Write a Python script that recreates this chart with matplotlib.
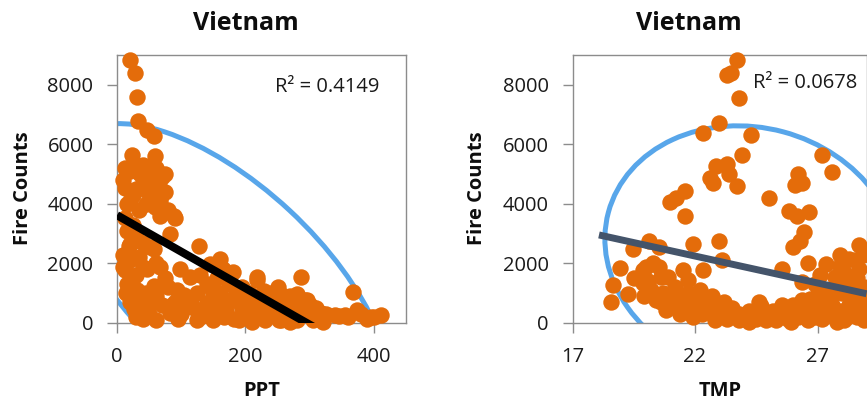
import numpy as np
import matplotlib
matplotlib.use('Agg')
import matplotlib.pyplot as plt
from matplotlib.patches import Ellipse
from matplotlib.transforms import ScaledTranslation
plt.rcParams['font.family'] = ['Open Sans', 'DejaVu Sans']
###############################################################################
# values

ppt = [20, 28, 31, 33, 46, 57, 23, 59, 12, 36, 75, 12, 46, 67, 15, 59, 91, 12,
       83, 127, 18, 26, 57, 145, 161, 98, 12, 46, 218, 286, 367, 14, 57, 104,
       229, 292, 374, 411, 390, 339, 355, 313, 26, 124, 182, 211, 252,
       20, 67, 88, 67, 20, 52, 10, 41, 67, 114, 31, 93, 57, 140, 177, 36, 83,
       130, 166, 203, 208, 218, 244, 281, 296, 317, 270, 239, 255, 395,
       30, 50, 40, 25, 55, 70, 150, 160, 170, 185, 195, 200, 215, 225, 235,
       245, 260, 265, 275, 285, 300, 305, 150, 190, 230, 280, 140, 155, 175,
       195, 250, 260, 180, 120, 100, 70, 50, 45, 75, 90, 130, 60, 35, 25, 20,
       40, 60, 95, 150, 210, 270, 320,
       10, 20, 30, 40, 50, 60, 65, 45, 35, 55, 75, 80, 25, 15, 30, 40, 10, 20,
       30, 15, 25, 35, 30, 30, 50, 60, 80, 85, 105, 115, 125, 135, 145, 160,
       165, 175, 190, 205, 220, 240, 255, 270, 290, 300, 310, 325, 345, 360,
       380, 400]
fire_ppt = [8830, 8380, 7600, 6770, 6490, 6270, 5650, 5600, 5210, 4990, 5000,
            4550, 4430, 4210, 3990, 3880, 3540, 3540, 2990, 2600, 2600, 2770,
            2500, 1990, 2160, 1800, 1780, 1800, 1540, 1540, 1040, 1000, 1240,
            940, 1070, 770, 430, 270, 150, 270, 270, 270, 480, 100, 150, 200,
            100,
            4100, 4100, 3600, 3600, 2660, 2540, 1880, 1880, 1880, 1540, 1100,
            1100, 770, 660, 770, 430, 320, 210, 210, 320, 770, 1430, 1040, 990,
            770, 320, 210, 320, 100, 210,
            5300, 5100, 4700, 4300, 4600, 4900, 900, 600, 400, 1000, 500, 800,
            600, 300, 700, 500, 400, 700, 300, 500, 300, 100, 300, 100, 100,
            100, 1300, 1500, 1300, 1200, 1200, 900, 1700, 500, 300, 600, 300,
            1000, 1500, 700, 1600, 2000, 2200, 1500, 700, 150, 100, 150, 100,
            50, 50, 50,
            4800, 5100, 4500, 5300, 4900, 5200, 4600, 4000, 3800, 4100, 4400,
            3800, 3300, 3100, 2900, 2700, 2300, 2100, 1600, 1300, 900, 700, 600,
            200, 600, 900, 1200, 600, 500, 800, 1000, 450, 1200, 1000, 1800,
            1500, 700, 1000, 900, 800, 600, 900, 400, 600, 500, 300, 250, 200,
            300, 200]

tmp = [23.73, 23.46, 23.3, 23.8, 22.99, 22.31, 24.28, 23.9, 27.19, 27.59,
       22.85, 23.3, 22.6, 23.4, 22.72, 23.7, 26.2, 26.37, 26.1, 25.02, 21.6,
       21.23, 20.96, 21.6, 25.83, 26.17, 26.65, 26.45, 26.3, 26.0, 22.99,
       21.9, 20.14, 20.55, 19.46, 23.12, 22.31, 18.92, 19.86, 20.55, 25.56,
       26.6, 27.33, 28.27, 28.68, 28.54, 28.1, 27.7, 21.5, 20.9, 19.87, 18.65,
       18.58, 19.26, 20.4, 20.82, 21.5, 22.31, 22.85, 23.39, 24.2, 24.7,
       25.56, 26.37, 26.37, 27.04, 27.4, 20.0, 20.3, 20.6, 21.7, 27.7,
       21.0, 21.3, 21.8, 22.0, 22.5, 23.0, 23.6, 24.0, 24.5, 25.0, 25.3, 25.8,
       26.2, 26.6, 27.0, 27.2, 27.6, 27.9, 28.2, 28.5, 28.8, 28.9, 27.5, 28.0,
       26.8, 25.5, 24.8, 23.8, 22.6, 21.2, 20.2, 20.7, 19.9, 28.4, 27.9, 28.7,
       28.9, 28.6, 27.8, 25.9, 24.2, 22.8, 21.9,
       22.3, 22.9, 23.3, 23.8, 24.4, 24.9, 25.2, 25.7, 26.0, 26.4, 26.9, 27.3,
       27.7, 28.1, 28.3, 28.6, 28.9, 27.4, 26.9, 28.2, 20.6, 21.4, 21.7, 22.2,
       22.7, 23.2, 23.5, 19.5, 20.1, 24.6, 26.7, 27.1, 28.6, 28.85, 27.9]
fire_tmp = [8820, 8380, 8320, 7540, 6710, 6380, 6320, 5630, 5630, 5070, 5270,
            5330, 4880, 4990, 4700, 4600, 5020, 4700, 4630, 4210, 4420, 4210,
            4060, 3600, 3770, 3600, 3740, 3050, 2770, 2560, 2770, 2660, 2770,
            2540, 2490, 2130, 1770, 1850, 1770, 1880, 1820, 2010, 1990, 2160,
            2630, 2100, 1720, 1550, 1770, 1550, 1350, 1270, 710, 960, 770, 430,
            770, 720, 500, 390, 390, 560, 620, 1380, 770, 990, 430, 1880, 2000,
            1550, 1430, 1220,
            900, 600, 500, 900, 400, 300, 250, 200, 150, 250, 100, 150, 200,
            100, 300, 150, 600, 400, 200, 800, 500, 1200, 800, 1000, 500, 400,
            200, 300, 600, 1200, 1100, 1000, 900, 1400, 1900, 1800, 100, 200,
            50, 50, 50, 100, 200,
            300, 200, 150, 100, 300, 100, 400, 300, 600, 300, 200, 700, 300,
            100, 600, 1000, 700, 1100, 1300, 1300, 700, 300, 1000, 1100, 900,
            700, 500, 1500, 1400, 700, 800, 1600, 1500, 2300, 2300]

# trend lines as shown on the chart (intercept, slope, x start)
trend_ppt = (3620, -12.25, 0)
trend_tmp = (6226, -180.8, 18.08)
r2_ppt = 'R\u00b2 = 0.4149'
r2_tmp = 'R\u00b2 = 0.0678'
###############################################################################

orange = '#E46C0A'
blue = '#58A6EA'
grey = '#8C8C8C'

fig = plt.figure(figsize=(8.67, 4.03), dpi=100)
W, H = 867.0, 403.0


def setup_axes(ax, xlim, xticks):
    ax.set_xlim(xlim)
    ax.set_ylim(0, 9000)
    ax.set_xticks(xticks)
    ax.set_yticks([0, 2000, 4000, 6000, 8000])
    for s in ax.spines.values():
        s.set_color(grey)
        s.set_linewidth(1.0)
    ax.tick_params(direction='out', length=7, width=1, color=grey, pad=10,
                   labelsize=14.5, labelcolor='#1a1a1a')


def draw_ellipse(ax, center, w_px, h_px, angle):
    # ellipse annotation: size in pixels, center in data units
    tr = fig.dpi_scale_trans + ScaledTranslation(center[0], center[1], ax.transData)
    e = Ellipse((0, 0), w_px / 100.0, h_px / 100.0, angle=angle, fill=False,
                edgecolor=blue, linewidth=3.6, transform=tr, zorder=2)
    ax.add_patch(e)


# left panel: PPT
ax1 = fig.add_axes([117 / W, 80 / H, 289 / W, 268 / H])
setup_axes(ax1, (0, 450), [0, 200, 400])
draw_ellipse(ax1, (169, 1470), 410, 188, -42.9)
ax1.scatter(ppt, fire_ppt, s=140, color=orange, linewidths=0, zorder=3,
            clip_on=False)
xt = np.array([trend_ppt[2], 450])
ax1.plot(xt, trend_ppt[0] + trend_ppt[1] * xt, color='black', linewidth=5.8,
         zorder=4, solid_capstyle='butt')

# right panel: TMP
ax2 = fig.add_axes([572.5 / W, 80 / H, 294 / W, 268 / H])
setup_axes(ax2, (17, 29), [17, 22, 27])
draw_ellipse(ax2, (24.3, 2430), 296, 246, -15)
ax2.scatter(tmp, fire_tmp, s=140, color=orange, linewidths=0, zorder=3,
            clip_on=False)
xt = np.array([trend_tmp[2], 29])
ax2.plot(xt, trend_tmp[0] + trend_tmp[1] * xt, color='#44546A', linewidth=5.0,
         zorder=4, solid_capstyle='butt')

# texts
for cx, lab_x, ylab_x, xlab, r2, r2x, r2y in [
        (245.5, 261.5, 23.5, 'PPT', r2_ppt, 275, 87),
        (689, 720, 477.5, 'TMP', r2_tmp, 752.7, 83)]:
    fig.text(cx / W, 1 - 24 / H, 'Vietnam', ha='center', va='center',
             fontsize=18, fontweight='bold', color='#0d0d0d')
    fig.text(lab_x / W, 1 - 391 / H, xlab, ha='center', va='center',
             fontsize=14.5, fontweight='bold', color='#0d0d0d')
    fig.text(ylab_x / W, 1 - 188.5 / H, 'Fire Counts', ha='center',
             va='center', rotation=90, fontsize=14.5, fontweight='bold',
             color='#0d0d0d')
    fig.text(r2x / W, 1 - r2y / H, r2, ha='left', va='center', fontsize=14.5,
             color='#1a1a1a')

fig.savefig('out.png', dpi=100)
